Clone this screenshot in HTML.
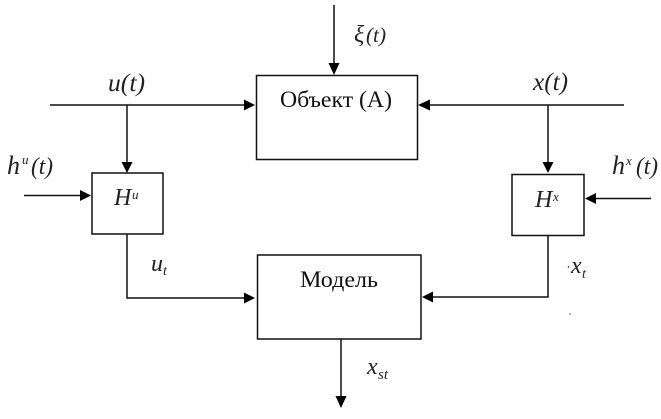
<!DOCTYPE html>
<html>
<head>
<meta charset="utf-8">
<style>
html,body{margin:0;padding:0;background:#fff;width:661px;height:419px;overflow:hidden}
svg{display:block}
text{font-family:"Liberation Serif",serif;fill:#111}
.i{font-style:italic;fill:#222}
</style>
</head>
<body>
<svg width="661" height="419" viewBox="0 0 661 419" xmlns="http://www.w3.org/2000/svg">
<g fill="none" stroke="#111" stroke-width="1.5">
<rect x="256.5" y="75.5" width="161" height="84"/>
<rect x="257.5" y="255" width="163.5" height="84"/>
<rect x="92" y="173" width="71" height="61"/>
<rect x="512" y="174.5" width="72" height="61"/>
<path d="M50 105H246"/>
<path d="M127 105V164"/>
<path d="M24 195.500H82"/>
<path d="M127 234V298H246"/>
<path d="M334 5V66"/>
<path d="M624 105H428"/>
<path d="M548 105V164"/>
<path d="M651 198.500H594"/>
<path d="M548 235V297H431"/>
<path d="M341 339V397"/>
</g>
<g fill="#000">
<polygon points="255,105 244,99.500 244,110.500"/>
<polygon points="127,173 121.500,162 132.500,162"/>
<polygon points="91,195.500 80,190 80,201"/>
<polygon points="255,298 244,292.500 244,303.500"/>
<polygon points="334,75 328.500,63 339.500,63"/>
<polygon points="418,105 430,99.500 430,110.500"/>
<polygon points="548,173 542.500,162 553.500,162"/>
<polygon points="585,198.500 596,193 596,204"/>
<polygon points="422,297 433,291.500 433,302.500"/>
<polygon points="341,408 335.500,396 346.500,396"/>
<circle cx="568.500" cy="267" r="0.700"/>
<circle cx="570" cy="314" r="0.600"/>
</g>
<text x="280" y="107" font-size="23" textLength="112" lengthAdjust="spacingAndGlyphs">Объект (А)</text>
<text x="300" y="287" font-size="23" textLength="78" lengthAdjust="spacingAndGlyphs">Модель</text>
<text class="i" x="108" y="91" font-size="25" textLength="37" lengthAdjust="spacingAndGlyphs">u(t)</text>
<text class="i" x="533" y="90" font-size="25" textLength="35" lengthAdjust="spacingAndGlyphs">x(t)</text>
<text class="i" x="354" y="42" font-size="24">ξ</text>
<text class="i" x="366" y="42" font-size="21" textLength="20" lengthAdjust="spacingAndGlyphs">(t)</text>
<text class="i" x="7" y="174" font-size="26">h</text>
<text class="i" x="22" y="164" font-size="13">u</text>
<text class="i" x="31" y="174" font-size="24" textLength="22" lengthAdjust="spacingAndGlyphs">(t)</text>
<text class="i" x="612" y="174" font-size="26">h</text>
<text class="i" x="626" y="165" font-size="13">x</text>
<text class="i" x="636" y="174" font-size="24" textLength="22" lengthAdjust="spacingAndGlyphs">(t)</text>
<text class="i" x="114" y="205" font-size="24">H</text>
<text class="i" x="132" y="199" font-size="13">u</text>
<text class="i" x="535" y="207" font-size="24">H</text>
<text class="i" x="553" y="201" font-size="13">x</text>
<text class="i" x="151" y="271" font-size="24">u</text>
<text class="i" x="163" y="275" font-size="14">t</text>
<text class="i" x="571" y="273" font-size="24">x</text>
<text class="i" x="582" y="278" font-size="14">t</text>
<text class="i" x="367" y="374" font-size="24">x</text>
<text class="i" x="378" y="379" font-size="15">st</text>
</svg>
</body>
</html>
